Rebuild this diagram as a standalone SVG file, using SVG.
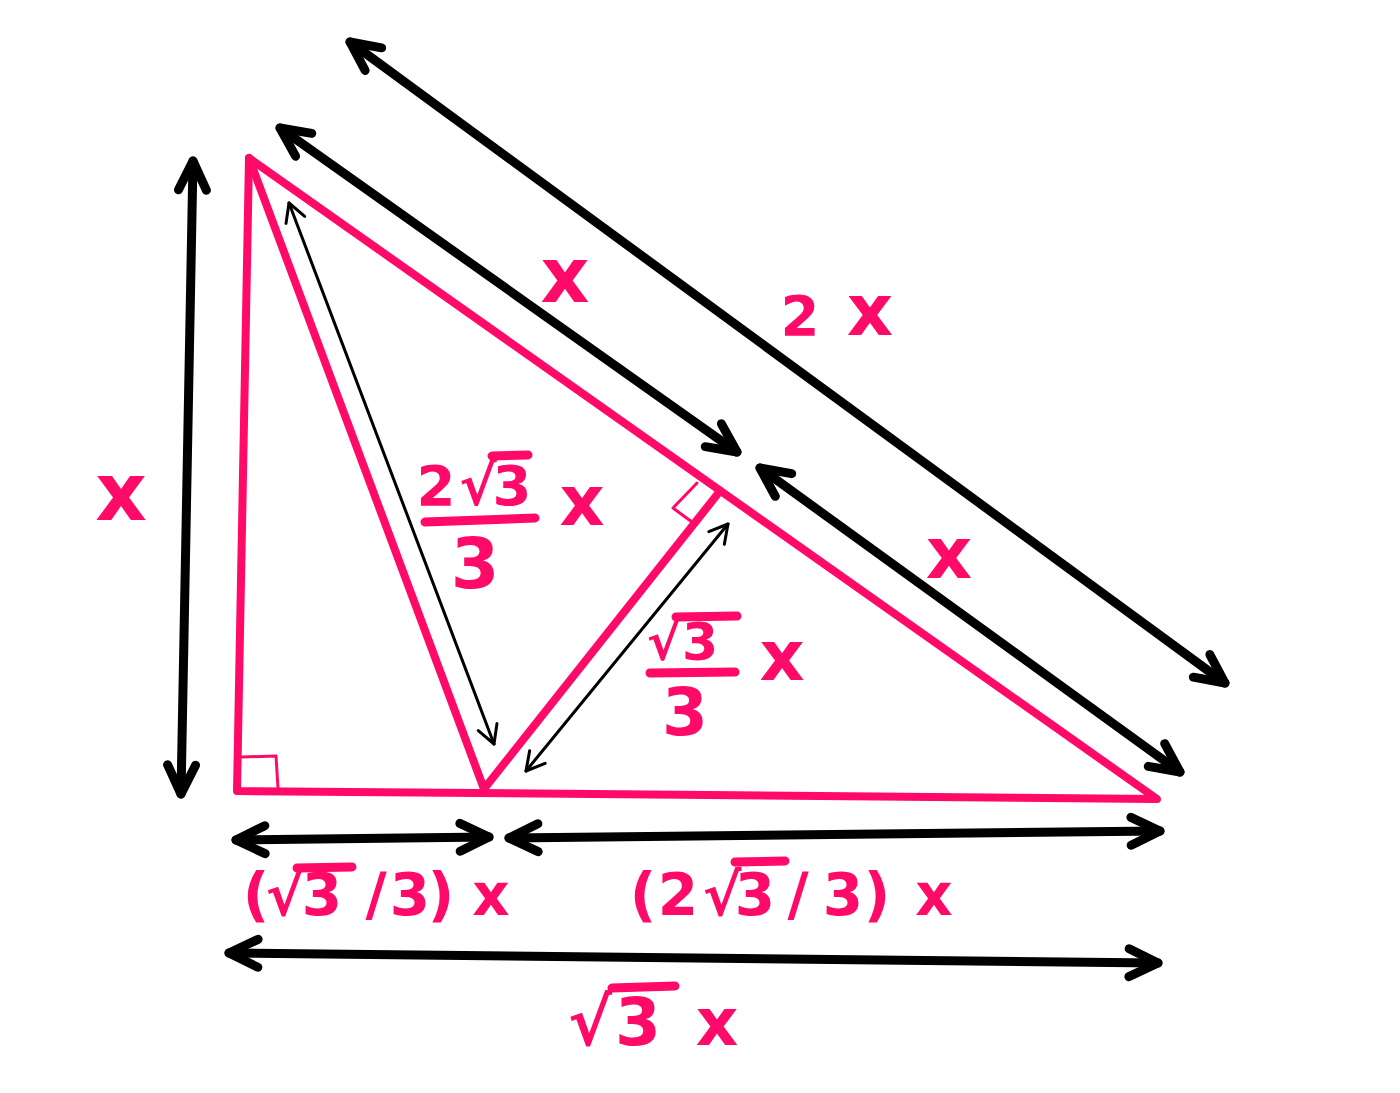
<svg xmlns="http://www.w3.org/2000/svg" width="1400" height="1093" viewBox="0 0 1400 1093">
<style>
.pk{fill:none;stroke:#ff0a68;stroke-width:8;stroke-linecap:round;stroke-linejoin:round}
.pkt{fill:none;stroke:#ff0a68;stroke-width:3;stroke-linecap:round;stroke-linejoin:round}
.bar{fill:none;stroke:#ff0a68;stroke-width:9;stroke-linecap:round}
.thick{fill:none;stroke:#000;stroke-width:9;stroke-linecap:round;marker-start:url(#ah);marker-end:url(#ah)}
.thin{fill:none;stroke:#000;stroke-width:3;stroke-linecap:round;marker-start:url(#ahs);marker-end:url(#ahs)}
text{font-family:"DejaVu Sans","Liberation Sans",sans-serif;font-weight:bold;fill:#ff0a68;text-anchor:middle}
</style>
<defs>
<marker id="ah" markerUnits="userSpaceOnUse" markerWidth="80" markerHeight="80" viewBox="-40 -40 80 80" refX="0" refY="0" orient="auto-start-reverse" overflow="visible">
<path d="M-29,-14 L0,0 L-29,14" fill="none" stroke="#000" stroke-width="9" stroke-linecap="round" stroke-linejoin="round"/>
</marker>
<marker id="ahs" markerUnits="userSpaceOnUse" markerWidth="60" markerHeight="60" viewBox="-30 -30 60 60" refX="0" refY="0" orient="auto-start-reverse" overflow="visible">
<path d="M-18,-10 L0,0 L-18,10" fill="none" stroke="#000" stroke-width="3" stroke-linecap="round" stroke-linejoin="round"/>
</marker>
</defs>
<rect width="1400" height="1093" fill="#fff"/>
<g id="triangle">
<path class="pk" d="M249,158 L237,791 L1157,799 Z"/>
<path class="pk" d="M249,158 L484,789 L720,491"/>
<path class="pkt" d="M242,757 L276,756 L278,788"/>
<path class="pkt" d="M697,483 L673,508 L692,522"/>
</g>
<g id="connectors">
<path class="thick" d="M193,161 L181,794"/>
<path class="thick" d="M280,128 L737,452"/>
<path class="thick" d="M760,468 L1180,772"/>
<path class="thick" d="M350,42 L1225,683"/>
<path class="thin" d="M289,203 L494,744"/>
<path class="thin" d="M728,524 L526,771"/>
<path class="thick" d="M236,840 L489,837"/>
<path class="thick" d="M509,838 L1160,831"/>
<path class="thick" d="M229,953 L1158,963"/>
</g>
<g id="label-left-x"><text x="121" y="520" font-size="80">x</text></g>
<g id="label-upper-x"><text x="565" y="302" font-size="76">x</text></g>
<g id="label-2x"><text x="800" y="335" font-size="56">2</text><text x="870" y="335" font-size="72">x</text></g>
<g id="label-lower-x"><text x="949" y="578" font-size="72">x</text></g>
<g id="label-2r3-3-x">
<text x="436" y="505" font-size="56">2</text>
<text x="478" y="505" font-size="56">√</text>
<text x="512" y="505" font-size="56">3</text>
<line class="bar" x1="492" y1="456" x2="528" y2="455"/>
<line class="bar" x1="425" y1="522" x2="535" y2="518"/>
<text x="475" y="588" font-size="70">3</text>
<text x="582" y="525" font-size="70">x</text>
</g>
<g id="label-r3-3-x">
<text x="664" y="660" font-size="52">√</text>
<text x="700" y="660" font-size="52">3</text>
<line class="bar" x1="676" y1="617" x2="737" y2="616"/>
<line class="bar" x1="650" y1="673" x2="735" y2="672"/>
<text x="685" y="735" font-size="66">3</text>
<text x="782" y="680" font-size="70">x</text>
</g>
<g id="label-base-left">
<text y="915" font-size="58"><tspan x="256">(</tspan><tspan x="285">√</tspan><tspan x="322">3</tspan><tspan x="376">/</tspan><tspan x="410">3</tspan><tspan x="441">)</tspan><tspan x="491">x</tspan></text>
<line class="bar" x1="297" y1="868" x2="352" y2="867"/>
</g>
<g id="label-base-right">
<text y="915" font-size="58"><tspan x="643">(</tspan><tspan x="678">2</tspan><tspan x="722">√</tspan><tspan x="755">3</tspan><tspan x="798">/</tspan><tspan x="843">3</tspan><tspan x="877">)</tspan><tspan x="934">x</tspan></text>
<line class="bar" x1="735" y1="862" x2="785" y2="861"/>
</g>
<g id="label-bottom">
<text y="1045" font-size="66"><tspan x="590">√</tspan><tspan x="638">3</tspan><tspan x="717">x</tspan></text>
<line class="bar" x1="612" y1="988" x2="675" y2="986"/>
</g>
</svg>
